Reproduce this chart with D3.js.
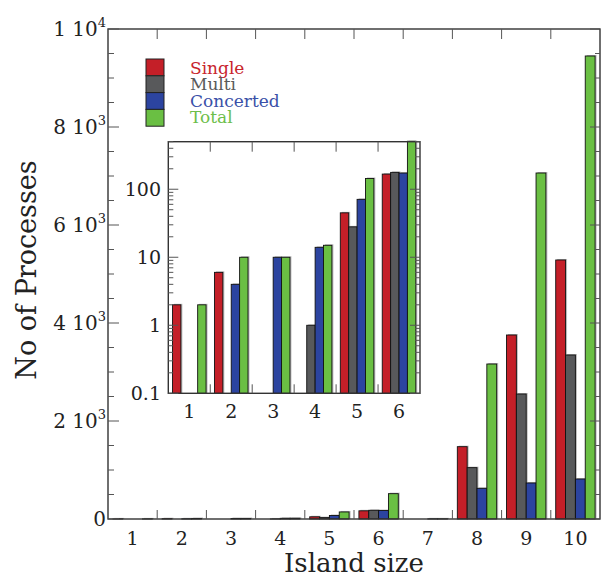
<!DOCTYPE html>
<html>
<head>
<meta charset="utf-8">
<script src="https://cdn.jsdelivr.net/npm/d3@7"></script>
<style>
  body { margin: 0; background: #fff; }
  svg { display: block; }
  text { font-family: "DejaVu Serif", serif; fill: #222; }
</style>
</head>
<body>
<svg id="chart" width="601" height="578"></svg>
<script>
// island sizes and number of processes per kind
const sizes = [1, 2, 3, 4, 5, 6, 7, 8, 9, 10];
const single    = [2, 6, 0, 0, 45, 167, 0, 1476, 3755, 5286];
const multi     = [0, 0, 0, 1, 28, 177, 0, 1048, 2551, 3347];
const concerted = [0, 4, 10, 14, 71, 173, 3, 626, 735, 816];
const total     = [2, 10, 10, 15, 144, 517, 3, 3163, 7061, 9449];

const seriesNames = ["Single", "Multi", "Concerted", "Total"];
const colors = ["#c41f28", "#58595b", "#2c44a0", "#6abf43"];
const textColors = ["#c8242c", "#5a5a5a", "#3a50a8", "#6dbe4a"];

const mainTicks = [0, 2000, 4000, 6000, 8000, 10000];
const insetSizes = [1, 2, 3, 4, 5, 6];
const insetTicks = [0.1, 1, 10, 100];

const allSeries = [single, multi, concerted, total];
const rows = sizes.map((s, i) => ({ size: s, vals: allSeries.map(a => a[i]) }));

const svg = d3.select("#chart");
const axisCol = "#333";
const tickCol = "#555";

// ---------- main chart ----------
const M = { left: 108, right: 600, top: 29, bottom: 519 };
const x = d3.scaleBand().domain(sizes).range([M.left, M.right]);
const xs = d3.scaleBand().domain(seriesNames).range([0, x.bandwidth()]).paddingOuter(0.5);
const y = d3.scaleLinear().domain([0, 10000]).range([M.bottom, M.top]);

function drawBars(g, data, xb, xsub, yf, y0) {
    const grp = g.selectAll("g.grp").data(data).join("g")
        .attr("transform", d => `translate(${xb(d.size)},0)`);
    grp.selectAll("rect.sh")
        .data(d => d.vals.map((v, k) => ({ v, k })).filter(e => e.v > 0))
        .join("rect").attr("class", "sh")
        .attr("x", e => xsub(seriesNames[e.k]) + 1.5)
        .attr("y", e => yf(e.v) - 1)
        .attr("width", xsub.bandwidth())
        .attr("height", e => Math.max(0, y0 - yf(e.v) + 1))
        .attr("fill", "#bbb");
    grp.selectAll("rect.bar")
        .data(d => d.vals.map((v, k) => ({ v, k })).filter(e => e.v > 0))
        .join("rect").attr("class", "bar")
        .attr("x", e => xsub(seriesNames[e.k]))
        .attr("y", e => yf(e.v))
        .attr("width", xsub.bandwidth())
        .attr("height", e => Math.max(0, y0 - yf(e.v)))
        .attr("fill", e => colors[e.k])
        .attr("stroke", "#111")
        .attr("stroke-width", 0.9);
}

const mainG = svg.append("g");
drawBars(mainG, rows, x, xs, y, M.bottom);

// frame
svg.append("rect")
    .attr("x", M.left).attr("y", M.top)
    .attr("width", M.right - M.left).attr("height", M.bottom - M.top)
    .attr("fill", "none").attr("stroke", axisCol).attr("stroke-width", 1.4);

// y ticks (major + minor), left and right, pointing inward
const minor = d3.range(0, 10001, 500);
minor.forEach(v => {
    const major = v % 2000 === 0;
    svg.append("line").attr("x1", M.left).attr("x2", M.left + (major ? 11 : 6))
        .attr("y1", y(v)).attr("y2", y(v)).attr("stroke", tickCol);
    svg.append("line").attr("x1", M.right).attr("x2", M.right - (major ? 10 : 5))
        .attr("y1", y(v)).attr("y2", y(v)).attr("stroke", tickCol);
});

// x ticks at band boundaries
sizes.slice(1).forEach(s => {
    const xx = x(s);
    svg.append("line").attr("x1", xx).attr("x2", xx).attr("y1", M.top).attr("y2", M.top + 10).attr("stroke", tickCol);
    svg.append("line").attr("x1", xx).attr("x2", xx).attr("y1", M.bottom).attr("y2", M.bottom - 9).attr("stroke", tickCol);
});

// y tick labels like "8 10^3"
mainTicks.forEach(v => {
    const t = svg.append("text")
        .attr("x", 106).attr("y", y(v)).attr("dy", "0.36em")
        .attr("text-anchor", "end").style("font-size", "20px");
    if (v === 0) { t.text("0"); return; }
    const e = Math.floor(Math.log10(v));
    const m = v / Math.pow(10, e);
    t.append("tspan").text(m + " 10");
    t.append("tspan").attr("dy", -9).style("font-size", "13px").text(e);
});

// x tick labels
svg.append("g").selectAll("text").data(sizes).join("text")
    .attr("x", d => x(d) + x.bandwidth() / 2)
    .attr("y", 545)
    .attr("text-anchor", "middle")
    .style("font-size", "19px")
    .text(d => d);

svg.append("text")
    .attr("x", (M.left + M.right) / 2).attr("y", 572)
    .attr("text-anchor", "middle").style("font-size", "26px")
    .text("Island size");

svg.append("text")
    .attr("transform", "translate(36,270) rotate(-90)")
    .attr("text-anchor", "middle").style("font-size", "27px")
    .text("No of Processes");

// legend
const leg = svg.append("g");
seriesNames.forEach((n, k) => {
    leg.append("rect").attr("x", 146).attr("y", 59 + k * 16.8)
        .attr("width", 18).attr("height", 16.8)
        .attr("fill", colors[k]).attr("stroke", "#222").attr("stroke-width", 1);
    leg.append("text").attr("x", 190).attr("y", 73.5 + k * 16.5)
        .style("font-size", "17px").style("fill", textColors[k])
        .text(n);
});

// ---------- inset (log scale) ----------
const I = { left: 168.3, right: 420, top: 141.7, bottom: 393.3 };
const insetRows = rows.filter(r => insetSizes.includes(r.size));
const xi = d3.scaleBand().domain(insetSizes).range([I.left, I.right]);
const xsi = d3.scaleBand().domain(seriesNames).range([0, xi.bandwidth()]).paddingOuter(0.5);
const yi = d3.scaleLog().domain([0.1, 500]).range([I.bottom, I.top]);

svg.append("rect")
    .attr("x", I.left).attr("y", I.top)
    .attr("width", I.right - I.left).attr("height", I.bottom - I.top)
    .attr("fill", "#fff");

svg.append("clipPath").attr("id", "insetClip").append("rect")
    .attr("x", I.left).attr("y", I.top - 1)
    .attr("width", I.right - I.left + 2).attr("height", I.bottom - I.top + 1);

const insetG = svg.append("g").attr("clip-path", "url(#insetClip)");
drawBars(insetG, insetRows, xi, xsi, yi, I.bottom);

svg.append("rect")
    .attr("x", I.left).attr("y", I.top)
    .attr("width", I.right - I.left).attr("height", I.bottom - I.top)
    .attr("fill", "none").attr("stroke", axisCol).attr("stroke-width", 1.4);

const logTicks = yi.ticks().filter(v => v >= 0.1 && v <= 500);
logTicks.forEach(v => {
    const major = Math.abs(Math.log10(v) - Math.round(Math.log10(v))) < 1e-9;
    svg.append("line").attr("x1", I.left).attr("x2", I.left + (major ? 10 : 5))
        .attr("y1", yi(v)).attr("y2", yi(v)).attr("stroke", tickCol);
    svg.append("line").attr("x1", I.right).attr("x2", I.right - (major ? 10 : 5))
        .attr("y1", yi(v)).attr("y2", yi(v)).attr("stroke", tickCol);
});

insetSizes.slice(1).forEach(s => {
    const xx = xi(s);
    svg.append("line").attr("x1", xx).attr("x2", xx).attr("y1", I.top).attr("y2", I.top + 10).attr("stroke", tickCol);
    svg.append("line").attr("x1", xx).attr("x2", xx).attr("y1", I.bottom).attr("y2", I.bottom - 9).attr("stroke", tickCol);
});

svg.append("g").selectAll("text").data(insetTicks).join("text")
    .attr("x", 161).attr("y", d => yi(d)).attr("dy", "0.36em")
    .attr("text-anchor", "end").style("font-size", "19px")
    .text(d => d);

svg.append("g").selectAll("text").data(insetSizes).join("text")
    .attr("x", d => xi(d) + xi.bandwidth() / 2)
    .attr("y", 418)
    .attr("text-anchor", "middle").style("font-size", "19px")
    .text(d => d);
</script>
</body>
</html>
